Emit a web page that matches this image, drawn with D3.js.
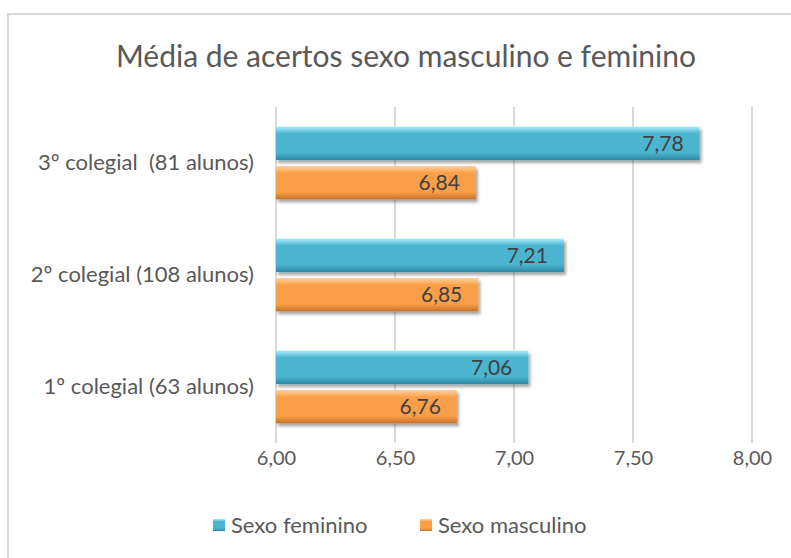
<!DOCTYPE html>
<html>
<head>
<meta charset="utf-8">
<script src="https://cdn.jsdelivr.net/npm/d3@7"></script>
<style>
  body { margin: 0; background: #fff; }
  text { font-family: Lato, "Open Sans", sans-serif; }
</style>
</head>
<body>
<div id="chart"></div>
<script>
// data
var categories = ["3º colegial  (81 alunos)", "2º colegial (108 alunos)", "1º colegial (63 alunos)"];
var seriesNames = ["Sexo feminino", "Sexo masculino"];
var feminino = [7.78, 7.21, 7.06];
var masculino = [6.84, 6.85, 6.76];
var xTicks = [6.0, 6.5, 7.0, 7.5, 8.0];

var width = 791, height = 558;
var plot = {left: 276, right: 752, top: 107, bottom: 443};

var svg = d3.select("#chart").append("svg")
    .attr("width", width)
    .attr("height", height);

var defs = svg.append("defs");

// office-ish bevel look: vertical gradients
function bevel(id, light, mid, dark) {
  var g = defs.append("linearGradient").attr("id", id)
      .attr("x1", 0).attr("y1", 0).attr("x2", 0).attr("y2", 1);
  g.append("stop").attr("offset", "0%").attr("stop-color", light);
  g.append("stop").attr("offset", "22%").attr("stop-color", mid);
  g.append("stop").attr("offset", "78%").attr("stop-color", mid);
  g.append("stop").attr("offset", "100%").attr("stop-color", dark);
}
bevel("gFem", "#a6ecfa", "#4bb4cf", "#2b88a3");
bevel("gMasc", "#ffd29c", "#f99f48", "#c87028");

var shadow = defs.append("filter").attr("id", "shadow")
    .attr("x", "-5%").attr("y", "-20%").attr("width", "115%").attr("height", "160%");
shadow.append("feDropShadow").attr("dx", 2).attr("dy", 3)
    .attr("stdDeviation", 1.8).attr("flood-color", "#000").attr("flood-opacity", 0.35);

// chart frame
svg.append("rect")
    .attr("x", 8).attr("y", 14)
    .attr("width", 800).attr("height", 560)
    .attr("fill", "#fff")
    .attr("stroke", "#d9d9d9").attr("stroke-width", 2);

var x = d3.scaleLinear().domain([6, 8]).range([plot.left, plot.right]);
var y0 = d3.scaleBand().domain(categories).range([plot.top, plot.bottom])
    .paddingInner(0.35).paddingOuter(0.175);
var y1 = d3.scaleBand().domain(seriesNames).range([0, y0.bandwidth()]).paddingInner(0.15);

// title
svg.append("text")
    .attr("x", 406).attr("y", 67)
    .attr("text-anchor", "middle")
    .attr("fill", "#595959")
    .attr("font-size", 30)
    .text("Média de acertos sexo masculino e feminino");

// gridlines
svg.append("g").selectAll("line").data(xTicks).join("line")
    .attr("x1", d => x(d)).attr("x2", d => x(d))
    .attr("y1", plot.top).attr("y2", plot.bottom)
    .attr("stroke", "#d9d9d9").attr("stroke-width", 2);

// x axis labels
var xAxis = d3.axisBottom(x).tickValues(xTicks).tickSize(0).tickPadding(0)
    .tickFormat(d => d3.format(".2f")(d).replace(".", ","));
var gx = svg.append("g")
    .attr("transform", "translate(0," + (plot.bottom + 8) + ")")
    .call(xAxis);
gx.select(".domain").remove();
gx.selectAll("text")
    .attr("fill", "#595959").attr("font-size", 20)
    .attr("font-family", "Lato, sans-serif");

// category labels
var yAxis = d3.axisLeft(y0).tickSize(0).tickPadding(0);
var gy = svg.append("g")
    .attr("transform", "translate(" + (plot.left - 22) + ",0)")
    .call(yAxis);
gy.select(".domain").remove();
gy.selectAll("text")
    .attr("fill", "#595959").attr("font-size", 22)
    .attr("font-family", "Lato, sans-serif")
    .style("white-space", "pre")
    .attr("xml:space", "preserve");

var rows = categories.map(function(c, i) {
  return {cat: c, vals: [
    {s: seriesNames[0], v: feminino[i], fill: "url(#gFem)"},
    {s: seriesNames[1], v: masculino[i], fill: "url(#gMasc)"}
  ]};
});

var groups = svg.append("g").selectAll("g").data(rows).join("g")
    .attr("transform", d => "translate(0," + y0(d.cat) + ")");

var bars = groups.selectAll("g").data(d => d.vals).join("g");

bars.append("rect")
    .attr("x", x(6))
    .attr("y", d => y1(d.s))
    .attr("width", d => x(d.v) - x(6))
    .attr("height", y1.bandwidth())
    .attr("fill", d => d.fill)
    .attr("filter", "url(#shadow)");

bars.append("text")
    .attr("x", d => x(d.v) - 16)
    .attr("y", d => y1(d.s) + y1.bandwidth() / 2)
    .attr("dy", "0.36em")
    .attr("text-anchor", "end")
    .attr("fill", "#404040")
    .attr("font-size", 21)
    .text(d => d3.format(".2f")(d.v).replace(".", ","));

// legend
var legend = svg.append("g").attr("transform", "translate(0,525)");
var legendItems = [
  {name: seriesNames[0], fill: "url(#gFem)", x: 213},
  {name: seriesNames[1], fill: "url(#gMasc)", x: 420}
];
var li = legend.selectAll("g").data(legendItems).join("g")
    .attr("transform", d => "translate(" + d.x + ",0)");
li.append("rect")
    .attr("x", 0).attr("y", -6).attr("width", 12).attr("height", 12)
    .attr("fill", d => d.fill);
li.append("text")
    .attr("x", 18).attr("dy", "0.35em")
    .attr("fill", "#595959").attr("font-size", 22)
    .text(d => d.name);
</script>
</body>
</html>
